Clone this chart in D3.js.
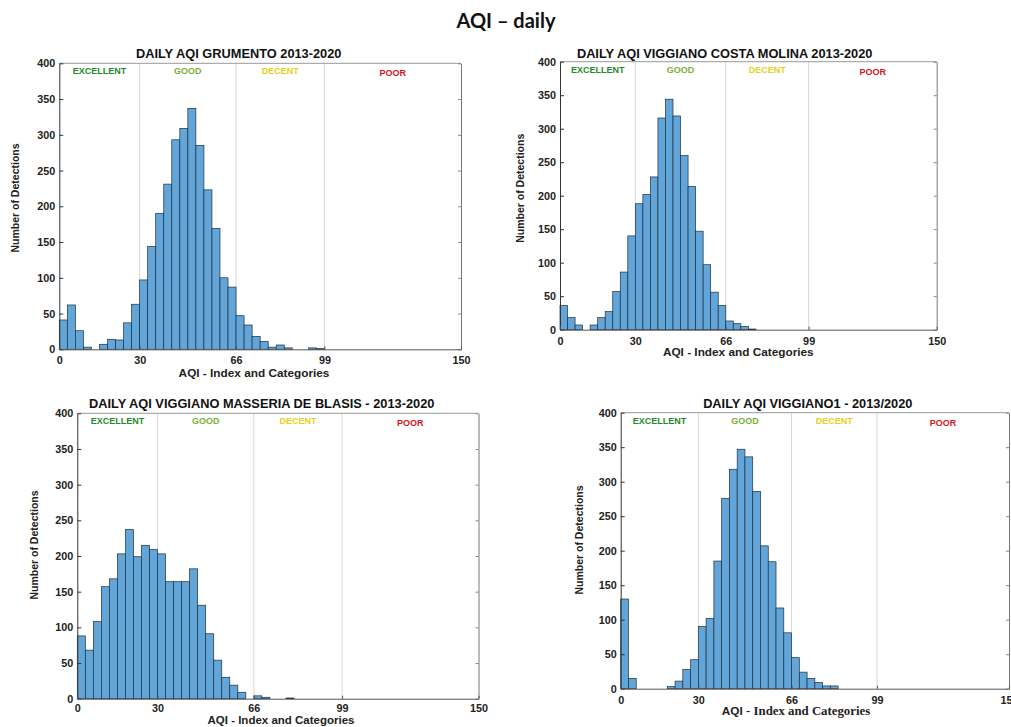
<!DOCTYPE html>
<html>
<head>
<meta charset="utf-8">
<script src="https://cdn.jsdelivr.net/npm/d3@7"></script>
<style>
body { margin: 0; background: #fff; }
svg { display: block; }
</style>
</head>
<body>
<script>
var width = 1011,
    height = 727;

// counts per bin, bins are 3 AQI wide starting at 0
var grumento    = [41, 62, 26, 3, 0, 7, 14, 13, 37, 63, 97, 144, 190, 231, 293, 309, 337, 285, 223, 169, 100, 87, 47, 34, 18, 11, 3, 6, 2, 0, 0, 2, 1];
var costaMolina = [36, 18, 7, 0, 7, 18, 27, 57, 86, 140, 188, 202, 228, 316, 344, 319, 260, 214, 147, 97, 56, 36, 13, 9, 5, 1];
var masseria    = [88, 68, 108, 157, 168, 203, 237, 199, 215, 209, 203, 164, 164, 164, 182, 131, 91, 54, 30, 19, 9, 0, 4, 2, 0, 0, 1];
var viggiano1   = [130, 15, 0, 0, 0, 0, 3, 11, 28, 42, 90, 102, 185, 276, 318, 347, 336, 286, 207, 184, 117, 81, 45, 24, 15, 9, 4, 4];

var binWidth = 3;
var xTicks = [0, 30, 66, 99, 150];
var yTicks = [0, 50, 100, 150, 200, 250, 300, 350, 400];
var catNames = ["EXCELLENT", "GOOD", "DECENT", "POOR"];
var catColors = ["#1d8a2b", "#7cb13a", "#e6d11c", "#d5141f"];
var catBounds = [0, 30, 66, 99, 150];
var titles = [
    "DAILY AQI GRUMENTO 2013-2020",
    "DAILY AQI VIGGIANO COSTA MOLINA 2013-2020",
    "DAILY AQI VIGGIANO MASSERIA DE BLASIS - 2013-2020",
    "DAILY AQI VIGGIANO1 - 2013/2020"
];

var svg = d3.select("body").append("svg")
    .attr("width", width)
    .attr("height", height);

svg.append("text")
    .attr("x", 506)
    .attr("y", 28)
    .attr("text-anchor", "middle")
    .attr("font-family", "Lato, 'Open Sans', sans-serif")
    .attr("font-weight", "bold")
    .attr("font-size", 20)
    .attr("fill", "#111")
    .text("AQI \u2013 daily");

// pixel boxes of the four panels
var panels = [
    { data: grumento,    x0: 59.3,  x1: 461,   y0: 63.3,  y1: 349.3, tx: 238.7, ty: 54,    lx: 254,   ly: 373,   yx: 15.3,  yy: 198,   pad: 7.5, fs: 11.8 },
    { data: costaMolina, x0: 560,   x1: 936.7, y0: 61.7,  y1: 329.7, tx: 724.7, ty: 53.3,  lx: 738.3, ly: 352.3, yx: 520,   yy: 188.3, pad: 7.5, fs: 11.8 },
    { data: masseria,    x0: 77.3,  x1: 478.5, y0: 413.3, y1: 698.7, tx: 261.7, ty: 403.3, lx: 281,   ly: 720.3, yx: 34.3,  yy: 545,   pad: 6,   fs: 11.5 },
    { data: viggiano1,   x0: 620.7, x1: 1009,  y0: 412.7, y1: 688.7, tx: 807.8, ty: 404,   lx: 796,   ly: 711,   yx: 579.3, yy: 540,   pad: 7.5, fs: 11.8, serif: true }
];

panels.forEach(function(p, i) {
    drawPanel(p, titles[i]);
});

function drawPanel(p, title) {
    var x = d3.scaleLinear().domain([0, 150]).range([p.x0, p.x1]);
    var y = d3.scaleLinear().domain([0, 400]).range([p.y1, p.y0]);
    var g = svg.append("g");

    // category separators
    g.selectAll(".sep")
        .data(catBounds.slice(1, 4))
        .enter().append("line")
        .attr("x1", function(d) { return x(d); })
        .attr("x2", function(d) { return x(d); })
        .attr("y1", p.y0)
        .attr("y2", p.y1)
        .attr("stroke", "#d8d8d8")
        .attr("stroke-width", 1);

    // category names
    g.selectAll(".cat")
        .data(catNames)
        .enter().append("text")
        .attr("x", function(d, k) { return x((catBounds[k] + catBounds[k + 1]) / 2); })
        .attr("y", function(d, k) { return p.y0 + (k == 3 ? 10 : 8); })
        .attr("dy", "0.35em")
        .attr("text-anchor", "middle")
        .attr("font-family", "'Liberation Sans', Arial, sans-serif")
        .attr("font-weight", "bold")
        .attr("font-size", 9)
        .attr("fill", function(d, k) { return catColors[k]; })
        .text(function(d) { return d; });

    // histogram bars, empty bins left out
    var bins = p.data.map(function(d, k) { return { bin: k, n: d }; })
        .filter(function(d) { return d.n > 0; });

    g.selectAll("rect.bar")
        .data(bins)
        .enter().append("rect")
        .attr("class", "bar")
        .attr("x", function(d) { return x(d.bin * binWidth); })
        .attr("width", function(d) { return x((d.bin + 1) * binWidth) - x(d.bin * binWidth); })
        .attr("y", function(d) { return y(d.n); })
        .attr("height", function(d) { return p.y1 - y(d.n); })
        .attr("fill", "#62a5d8")
        .attr("stroke", "#1e3041")
        .attr("stroke-width", 0.7);

    // box
    g.append("line")
        .attr("x1", p.x0).attr("x2", p.x1)
        .attr("y1", p.y0).attr("y2", p.y0)
        .attr("stroke", "#999");

    var right = g.append("g")
        .attr("transform", "translate(" + p.x1 + ",0)")
        .call(d3.axisRight(y).tickValues(yTicks).tickSize(-3).tickSizeOuter(0).tickFormat(""));
    right.select(".domain").attr("stroke", "#777");
    right.selectAll(".tick line").attr("stroke", "#888");

    var left = g.append("g")
        .attr("transform", "translate(" + p.x0 + ",0)")
        .call(d3.axisLeft(y).tickValues(yTicks).tickSize(-4).tickSizeOuter(0).tickPadding(4));
    left.select(".domain").attr("stroke", "#333");
    left.selectAll(".tick line").attr("stroke", "#333");
    left.selectAll("text")
        .attr("font-family", "'Liberation Sans', Arial, sans-serif")
        .attr("font-weight", "bold")
        .attr("font-size", 10.8)
        .attr("fill", "#222");

    var bottom = g.append("g")
        .attr("transform", "translate(0," + p.y1 + ")")
        .call(d3.axisBottom(x).tickValues(xTicks).tickSize(-3).tickSizeOuter(0).tickPadding(p.pad));
    bottom.select(".domain").attr("stroke", "#555");
    bottom.selectAll(".tick line").attr("stroke", "#555");
    bottom.selectAll("text")
        .attr("font-family", "'Liberation Sans', Arial, sans-serif")
        .attr("font-weight", "bold")
        .attr("font-size", 10.8)
        .attr("fill", "#222");

    // titles and axis labels
    g.append("text")
        .attr("x", p.tx)
        .attr("y", p.ty)
        .attr("dy", "0.35em")
        .attr("text-anchor", "middle")
        .attr("font-family", "'Liberation Sans', Arial, sans-serif")
        .attr("font-weight", "bold")
        .attr("font-size", 12.8)
        .attr("fill", "#111")
        .text(title);

    var xl = g.append("text")
        .attr("x", p.lx)
        .attr("y", p.ly)
        .attr("dy", "0.35em")
        .attr("text-anchor", "middle")
        .attr("font-family", "'Liberation Sans', Arial, sans-serif")
        .attr("font-weight", "bold")
        .attr("font-size", p.fs)
        .attr("fill", "#222");
    if (p.serif) {
        xl.append("tspan").text("AQI  ");
        xl.append("tspan")
            .attr("font-family", "'Liberation Serif', 'Times New Roman', serif")
            .attr("font-size", 12.8)
            .text("- Index and Categories");
    } else {
        xl.text("AQI - Index and Categories");
    }

    g.append("text")
        .attr("transform", "translate(" + p.yx + "," + p.yy + ") rotate(-90)")
        .attr("dy", "0.35em")
        .attr("text-anchor", "middle")
        .attr("font-family", "'Liberation Sans', Arial, sans-serif")
        .attr("font-weight", "bold")
        .attr("font-size", 10.5)
        .attr("fill", "#222")
        .text("Number of Detections");
}
</script>
</body>
</html>
